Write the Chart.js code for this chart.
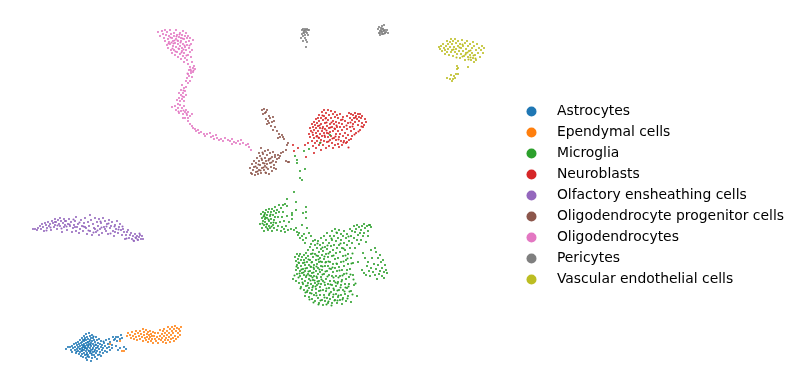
<!DOCTYPE html>
<html>
<head>
<meta charset="utf-8">
<style>
  html, body { margin: 0; background: #fff; }
  #wrap { width: 800px; height: 389px; position: relative; }
</style>
</head>
<body>
<div id="wrap"><canvas id="umap" width="800" height="389"></canvas></div>
<script src="https://cdn.jsdelivr.net/npm/chart.js@4"></script>
<script>
// embedding values, one list per cell type
const cellTypes = ['Astrocytes', 'Ependymal cells', 'Microglia', 'Neuroblasts', 'Olfactory ensheathing cells',
  'Oligodendrocyte progenitor cells', 'Oligodendrocytes', 'Pericytes', 'Vascular endothelial cells'];
const palette = ['#1f77b4', '#ff7f0e', '#2ca02c', '#d62728', '#9467bd', '#8c564b', '#e377c2', '#7f7f7f', '#bcbd22'];

const astrocytes = [[66,349],[68,347],[70,347],[71,350],[72,346],[73,348],[72,352],[74,344],[75,350],[75,347],[76,343],[76,353],[77,345],[77,349],[78,342],[78,347],[78,351],[79,344],[79,354],[80,340],[80,346],[80,349],[80,352],[81,343],[81,356],[82,338],[82,342],[82,345],[82,348],[82,351],[82,354],[83,340],[83,347],[83,357],[84,336],[84,341],[84,344],[84,350],[84,353],[85,338],[85,346],[85,348],[85,355],[86,334],[86,340],[86,343],[86,351],[86,358],[87,337],[87,345],[87,349],[87,353],[87,360],[88,339],[88,342],[88,347],[88,355],[89,333],[89,344],[89,351],[89,357],[90,336],[90,340],[90,348],[90,353],[91,338],[91,343],[91,346],[91,350],[91,361],[92,335],[92,341],[92,355],[92,358],[93,338],[93,344],[93,348],[93,352],[94,340],[94,346],[94,355],[95,342],[95,350],[95,357],[96,337],[96,345],[96,348],[96,353],[97,340],[97,351],[97,359],[98,343],[98,346],[98,355],[99,339],[99,349],[100,344],[100,352],[101,341],[101,347],[101,356],[102,345],[102,350],[103,348],[103,353],[104,343],[105,346],[105,351],[106,340],[107,348],[107,352],[108,344],[109,347],[109,339],[110,342],[110,350],[112,345],[112,348],[113,337],[114,340],[115,339],[116,337],[116,346],[117,341],[118,337],[118,350],[120,339],[120,348],[121,335],[122,338],[124,347],[126,349],
  [85.5,347.5],[88.5,350.5],[83.5,345.5],[90.5,344.5],[86.5,354.5],[92.5,349.5],[81.5,350.5],[94.5,351.5],[89.5,341.5],[87.5,356.5],[79.5,348.5],[97.5,347.5],[84.5,339.5],[91.5,353.5],[76.5,351.5],[99.5,354.5],[93.5,336.5],[86.5,348.5],[88.5,345.5],[90.5,351.5],[84.5,347.5],[82.5,349.5],[95.5,344.5],[103.5,341.5],[87.5,342.5]];
const ependymal = [[110,344],[120,341],[122,351],[124,351],[127,336],[128,333],[130,335],[131,338],[132,332],[133,336],[134,339],[135,334],[136,331],[136,337],[137,340],[138,333],[139,336],[140,331],[140,339],[141,334],[142,337],[143,329],[143,341],[144,332],[144,335],[145,338],[146,330],[146,340],[147,334],[147,337],[148,332],[148,342],[149,335],[149,339],[150,331],[150,337],[151,334],[151,341],[152,336],[152,339],[153,332],[153,343],[154,336],[155,339],[155,333],[156,341],[157,337],[158,333],[158,343],[159,339],[160,336],[160,330],[161,340],[162,334],[162,338],[163,331],[163,342],[164,336],[164,329],[165,340],[165,333],[166,338],[166,343],[167,331],[167,335],[168,327],[168,340],[169,333],[169,337],[170,329],[170,342],[171,335],[171,339],[172,327],[172,331],[173,338],[173,333],[174,341],[174,329],[175,336],[175,326],[176,331],[176,339],[177,328],[178,333],[178,337],[179,329],[180,331],[180,335],[181,327]];
const microglia = [[294,192],[287,199],[296,202],[285,204],[283,205],[287,206],[306,207],[303,213],[306,212],[306,218],[302,225],[307,228],[296,210],[292,213],[292,219],
  [260,224],[261,214],[262,218],[262,228],[263,212],[263,221],[264,216],[264,225],[264,231],[265,213],[265,219],[265,222],[266,210],[266,227],[267,215],[267,218],[267,224],[268,212],[268,230],[269,221],[269,209],[269,226],[270,216],[270,228],[271,212],[271,219],[271,223],[272,209],[272,231],[273,215],[273,225],[274,211],[274,220],[274,228],[275,207],[275,217],[276,223],[276,213],[277,230],[277,210],[278,217],[278,226],[279,205],[279,212],[280,222],[281,208],[281,231],[282,217],[282,227],[283,212],[284,221],[284,229],[285,232],[286,226],[287,216],[288,230],[289,222],[291,229],[292,215],[294,230],[296,228],
  [265.5,217.5],[268.5,219.5],[262.5,223.5],[270.5,214.5],[266.5,224.5],[273.5,222.5],[263.5,216.5],[267.5,228.5],[264.5,214.5],[271.5,226.5],
  [297,232],[298,235],[299,233],[300,238],[302,236],[303,240],[304,234],[305,243],[306,238],[309,233],[311,236],[313,241],[311,244],[315,240],
  [293,279],[295,257],[296,261],[296,270],[296,281],[297,254],[297,265],[297,274],[298,259],[298,268],[299,283],[299,256],[299,263],[300,271],[300,276],[300,254],[301,260],[301,266],[301,287],[302,257],[302,273],[302,279],[303,263],[303,269],[303,284],[304,255],[304,260],[304,275],[304,290],[305,265],[305,281],[305,271],[305,296],[306,253],[306,258],[306,277],[306,286],[307,262],[307,268],[307,292],[308,274],[308,283],[308,250],[308,256],[309,265],[309,279],[309,288],[309,297],[310,260],[310,271],[310,247],[310,293],[311,254],[311,267],[311,276],[311,284],[312,262],[312,273],[312,290],[312,299],[313,250],[313,257],[313,280],[313,286],[314,265],[314,269],[314,276],[314,295],[315,245],[315,254],[315,283],[315,301],[316,260],[316,271],[316,289],[316,293],[317,248],[317,264],[317,278],[317,285],[318,241],[318,256],[318,268],[318,274],[318,298],[319,252],[319,262],[319,281],[319,291],[319,303],[320,245],[320,258],[320,272],[320,287],[320,295],[321,238],[321,249],[321,266],[321,277],[321,284],[322,255],[322,262],[322,270],[322,300],[323,243],[323,251],[323,281],[323,290],[323,305],[324,236],[324,259],[324,274],[324,295],[325,247],[325,266],[325,285],[325,301],[326,240],[326,254],[326,262],[326,279],[326,291],[327,233],[327,249],[327,271],[327,298],[328,257],[328,266],[328,284],[328,303],[329,243],[329,275],[329,288],[329,295],[330,236],[330,252],[330,262],[330,281],[330,299],[331,246],[331,269],[331,292],[332,231],[332,240],[332,256],[332,276],[332,285],[332,303],[333,250],[333,264],[333,272],[333,297],[334,236],[334,245],[334,281],[334,290],[335,229],[335,259],[335,268],[335,300],[336,241],[336,253],[336,276],[336,286],[336,294],[337,233],[337,248],[337,264],[337,271],[337,303],[338,238],[338,258],[338,282],[338,297],[339,230],[339,245],[339,267],[339,290],[340,252],[340,276],[340,300],[341,234],[341,240],[341,262],[341,285],[341,295],[342,248],[342,270],[342,280],[342,304],[343,236],[343,256],[343,290],[343,298],[344,231],[344,243],[344,266],[344,274],[345,250],[345,284],[345,294],[346,238],[346,260],[346,279],[346,301],[347,234],[347,245],[347,270],[347,288],[348,254],[348,264],[348,296],[349,241],[349,277],[349,284],[350,229],[350,248],[350,269],[351,236],[351,258],[351,291],[351,302],[352,243],[352,231],[353,275],[353,263],[354,226],[354,238],[354,285],[355,232],[355,248],[356,229],[357,240],[357,296],[357,225],[358,235],[358,262],[359,227],[359,244],[360,233],[361,230],[361,240],[362,226],[363,236],[364,224],[364,233],[365,228],[366,242],[367,226],[368,231],[369,225],[370,225],[371,227],[368,236],
  [305.5,268.5],[308.5,271.5],[311.5,262.5],[313.5,272.5],[316.5,266.5],[319.5,269.5],[322.5,274.5],[316.5,276.5],[310.5,280.5],[307.5,285.5],[312.5,287.5],[318.5,283.5],[321.5,279.5],[325.5,271.5],[327.5,276.5],[324.5,282.5],[320.5,290.5],[316.5,295.5],[311.5,293.5],[326.5,288.5],[330.5,284.5],[333.5,288.5],[329.5,293.5],[324.5,297.5],[320.5,300.5],[328.5,301.5],[333.5,294.5],[337.5,290.5],[338.5,295.5],[334.5,300.5],[340.5,287.5],[344.5,291.5],[348.5,286.5],[342.5,299.5],[347.5,298.5],[352.5,294.5],[355.5,283.5],[353.5,279.5],[350.5,274.5],[346.5,273.5],[342.5,275.5],[338.5,277.5],[335.5,282.5],[332.5,267.5],[336.5,263.5],[339.5,270.5],[343.5,261.5],[347.5,258.5],[351.5,263.5],[328.5,261.5],[324.5,256.5],[320.5,261.5],[316.5,255.5],[312.5,253.5],[308.5,259.5],[304.5,262.5],[301.5,269.5],[298.5,262.5],[296.5,266.5],[294.5,275.5],[298.5,277.5],[302.5,282.5],[300.5,288.5],[305.5,292.5],[309.5,299.5],[313.5,302.5],[307.5,290.5],[303.5,272.5],[299.5,273.5],[306.5,275.5],[309.5,275.5],[314.5,280.5],[317.5,281.5],[315.5,286.5],[312.5,277.5],[310.5,266.5],[313.5,267.5],[318.5,259.5],[322.5,266.5],[325.5,262.5],[329.5,268.5],[333.5,277.5],[337.5,283.5],[341.5,281.5],[345.5,287.5],[349.5,291.5],[337.5,300.5],[331.5,305.5],[326.5,304.5],[318.5,304.5],[327.5,245.5],[333.5,255.5],[340.5,243.5],[345.5,255.5],[331.5,238.5],[336.5,232.5],[348.5,236.5],[352.5,253.5],[343.5,248.5],[322.5,247.5],[317.5,243.5],[328.5,253.5],
  [362,270],[363,253],[364,273],[365,258],[366,275],[367,266],[368,262],[369,271],[370,276],[371,250],[371,268],[372,258],[373,272],[374,264],[375,248],[375,275],[376,252],[376,269],[377,279],[378,258],[378,265],[379,274],[380,255],[380,271],[381,262],[382,276],[382,268],[383,260],[384,272],[385,265],[386,270],[387,273],[384,278],
  [304,151],[309,149],[295,156],[297,160],[297,163],[300,171],[305,169],[300,178],[302,180],[330,135],[320,143]];
const neuroblasts = [[293,145],[298,148],[294,151],[306,157],[305,145],[314,153],[308,143],[309,134],[310,128],[310,137],[311,131],[312,124],[312,141],[313,127],[313,135],[313,146],[314,122],[314,130],[314,138],[315,125],[315,143],[316,119],[316,133],[316,128],[316,148],[317,136],[317,123],[317,141],[318,118],[318,126],[318,131],[319,115],[319,121],[319,138],[319,145],[320,128],[320,134],[321,118],[321,124],[321,140],[321,150],[322,112],[322,131],[322,136],[323,120],[323,127],[323,145],[324,116],[324,110],[324,133],[324,141],[325,123],[325,129],[325,137],[326,113],[326,118],[326,148],[327,126],[327,133],[327,142],[328,110],[328,120],[328,137],[329,115],[329,128],[329,146],[330,124],[330,132],[330,140],[331,111],[331,118],[331,136],[332,127],[332,143],[333,114],[333,121],[333,131],[333,148],[334,124],[334,138],[335,112],[335,117],[335,129],[335,145],[336,122],[336,134],[336,140],[337,115],[337,127],[338,118],[338,131],[338,144],[339,123],[339,137],[339,147],[340,114],[340,127],[340,134],[341,120],[341,141],[342,124],[342,130],[342,145],[343,117],[343,136],[344,127],[344,141],[345,121],[345,133],[346,138],[346,143],[347,116],[347,129],[348,123],[348,135],[349,113],[349,140],[350,118],[350,127],[351,114],[351,131],[352,120],[352,136],[353,115],[353,124],[354,118],[354,129],[355,113],[355,122],[356,116],[356,133],[357,119],[358,114],[358,125],[359,117],[359,121],[360,114],[360,130],[361,118],[362,123],[362,116],[363,127],[364,125],[365,119],[366,122],[351,139],[347,142],
  [318.5,137.5],[322.5,128.5],[326.5,122.5],[330.5,127.5],[324.5,135.5],[328.5,133.5],[332.5,138.5],[320.5,142.5],[316.5,136.5],[334.5,128.5],[328.5,141.5],[325.5,118.5],[322.5,115.5],[331.5,122.5],[336.5,125.5],[312.5,132.5],[319.5,125.5],[326.5,130.5],[335.5,136.5],[338.5,139.5],[342.5,119.5],[343.5,142.5],[354.5,134.5],[348.5,147.5],[352.5,126.5],[358.5,131.5],[361.5,126.5],[355.5,117.5],[350.5,122.5],[346.5,125.5]];
const olfactory = [[33,229],[35,229],[37,230],[38,228],[40,226],[41,229],[42,224],[43,227],[44,231],[45,223],[46,225],[47,228],[48,222],[49,226],[50,224],[51,230],[52,221],[53,223],[54,227],[55,219],[55,225],[56,222],[57,229],[58,220],[59,224],[60,218],[60,226],[61,221],[62,232],[63,223],[64,219],[64,227],[65,225],[66,221],[67,230],[68,224],[69,219],[70,226],[71,222],[72,232],[73,228],[74,225],[75,221],[76,217],[76,231],[77,227],[78,224],[79,233],[80,229],[81,220],[82,226],[83,231],[84,223],[85,218],[86,228],[87,234],[88,222],[89,226],[90,215],[90,231],[91,220],[92,235],[93,224],[94,228],[95,218],[96,232],[97,222],[98,226],[99,219],[99,235],[100,229],[101,223],[102,233],[103,218],[104,227],[105,221],[106,231],[107,224],[108,234],[109,220],[110,228],[111,226],[112,222],[113,231],[114,236],[115,225],[116,229],[117,221],[118,233],[119,227],[120,224],[121,230],[122,235],[123,229],[124,232],[125,239],[126,235],[127,232],[128,230],[129,238],[130,235],[131,233],[132,239],[133,236],[134,241],[135,234],[136,238],[137,236],[138,240],[139,237],[140,235],[141,239],[142,236],[143,239],[85,227],[95,229],[105,229],[115,232],[75,227],[65,221],[55,222],
  [50.5,227.5],[57.5,225.5],[61.5,228.5],[69.5,224.5],[73.5,219.5],[79.5,222.5],[83.5,226.5],[88.5,230.5],[93.5,232.5],[97.5,230.5],[101.5,227.5],[106.5,226.5],[110.5,233.5],[114.5,226.5],[118.5,229.5],[122.5,226.5],[126.5,238.5],[133.5,240.5],[135.5,237.5],[137.5,239.5],[139.5,233.5],[46.5,230.5],[66.5,226.5],[100.5,221.5],[108.5,223.5]];
const opc = [[262,110],[263,114],[264,109],[265,113],[266,119],[266,112],[267,110],[268,121],[267,124],[269,116],[269,123],[270,118],[271,126],[272,122],[273,117],[274,121],[275,127],[273,130],[277,131],[279,134],[280,137],[278,138],[282,135],[283,137],[288,143],[287,145],[284,139],[250,168],[251,173],[252,164],[252,174],[253,170],[254,161],[254,167],[255,175],[256,163],[256,172],[257,158],[257,168],[258,174],[259,153],[259,161],[259,170],[260,156],[260,165],[261,173],[261,148],[262,160],[262,168],[263,154],[263,163],[264,170],[265,151],[265,158],[265,166],[266,161],[266,173],[267,155],[267,164],[268,150],[268,169],[269,159],[269,174],[270,153],[270,163],[271,167],[272,157],[272,171],[273,152],[273,161],[274,165],[275,157],[275,155],[276,162],[277,159],[278,155],[279,158],[280,156],[281,153],[283,152],[274,168],[276,169],[288,162],[286,161],[289,162],[286,150],
  [258.5,164.5],[261.5,158.5],[264.5,163.5],[266.5,167.5],[263.5,167.5],[260.5,170.5],[257.5,171.5],[268.5,160.5],[270.5,158.5],[255.5,166.5],[271.5,162.5],[262.5,152.5],[265.5,172.5]];
const oligodendrocytes = [[158,32],[160,36],[162,31],[163,34],[164,38],[165,41],[165,30],[166,35],[167,45],[167,32],[168,39],[168,48],[169,36],[169,42],[170,30],[170,44],[171,50],[171,34],[172,38],[172,53],[173,41],[173,46],[174,33],[174,36],[174,50],[175,43],[175,55],[176,39],[176,47],[176,30],[177,35],[177,52],[178,41],[178,44],[178,57],[179,37],[179,49],[180,33],[180,54],[180,46],[181,41],[181,38],[181,59],[182,35],[182,51],[182,48],[183,44],[183,31],[183,56],[184,39],[184,53],[184,62],[185,36],[185,47],[185,58],[186,33],[186,42],[186,50],[187,45],[187,60],[187,38],[188,55],[188,36],[188,64],[189,41],[189,48],[190,52],[190,38],[190,67],[191,44],[191,57],[192,50],[192,62],[193,40],[193,68],[194,66],[195,69],[193,72],[191,71],[189,70],[188,74],[189,76],[191,73],[187,78],[192,77],[186,81],[188,83],[190,81],[182,85],[184,88],[185,91],[186,87],[181,90],[179,93],[181,95],[183,93],[184,97],[179,98],[177,100],[180,101],[182,99],[184,101],[186,95],[172,107],[175,106],[176,110],[178,104],[178,108],[179,113],[180,105],[181,111],[182,108],[183,114],[184,106],[185,112],[186,110],[187,115],[188,112],[183,118],[185,118],[188,118],[190,116],[192,114],[188,121],[190,124],[192,126],[193,128],[195,129],[196,131],[198,130],[199,133],[201,132],[204,134],[205,136],[207,134],[210,133],[211,137],[213,136],[214,139],[216,135],[217,138],[219,140],[221,139],[223,141],[225,138],[228,140],[230,141],[232,144],[234,142],[236,143],[238,141],[240,144],[241,140],[243,143],[246,145],[249,147],[251,150],[248,144],[232,139],
  [170.5,37.5],[173.5,43.5],[176.5,36.5],[178.5,48.5],[180.5,42.5],[182.5,38.5],[175.5,51.5],[172.5,48.5],[168.5,43.5],[184.5,45.5],[181.5,52.5],[177.5,40.5],[179.5,34.5],[186.5,55.5],[183.5,49.5],[189.5,45.5],[174.5,40.5],[171.5,42.5],[193.5,70.5],[190.5,69.5],[187.5,73.5],[183.5,90.5],[182.5,96.5],[178.5,111.5],[183.5,110.5],[186.5,113.5]];
const pericytes = [[301,38],[302,30],[302,34],[303,29],[303,36],[303,41],[304,31],[304,33],[305,29],[305,38],[305,35],[306,30],[306,32],[306,40],[307,42],[307,29],[307,33],[308,30],[308,35],[309,30],[306,47],[378,29],[379,33],[379,27],[380,31],[380,35],[381,28],[381,30],[382,32],[382,26],[383,29],[383,34],[384,25],[384,31],[385,30],[385,33],[386,32],[387,30],[388,33],[380,33],[382,34],
  [303.5,32.5],[304.5,30.5],[381.5,31.5],[383.5,30.5],[382.5,28.5],[384.5,33.5]];
const vascular = [[439,47],[440,49],[441,46],[442,51],[443,44],[444,48],[445,50],[445,54],[446,46],[447,41],[447,52],[448,44],[448,49],[449,55],[450,42],[450,47],[451,39],[451,52],[452,44],[452,50],[453,41],[453,56],[454,47],[455,39],[455,52],[456,43],[456,49],[457,54],[457,66],[457,69],[458,41],[458,46],[458,68],[459,51],[460,58],[460,44],[461,48],[461,54],[462,40],[463,51],[463,46],[464,56],[465,43],[465,60],[466,49],[466,53],[467,41],[468,46],[468,57],[469,51],[470,44],[470,55],[471,60],[472,48],[472,53],[473,42],[473,58],[474,46],[474,62],[475,55],[476,50],[476,60],[477,44],[478,53],[479,48],[480,57],[481,50],[482,46],[483,53],[484,48],[468,67],[447,78],[450,79],[451,75],[452,81],[453,79],[454,76],[455,78],[456,74],[458,74],
  [462.5,56.5],[465.5,54.5],[467.5,52.5],[470.5,57.5],[473.5,55.5],[459.5,47.5],[456.5,57.5],[462.5,44.5],[470.5,50.5],[475.5,58.5],[468.5,59.5],[453.5,49.5]];

const clusters = [astrocytes, ependymal, microglia, neuroblasts, olfactory, opc, oligodendrocytes, pericytes, vascular];

// legend dot as a small canvas, so the built-in legend can leave the wide gap before the text
const legendDot = (color) => {
    const dot = document.createElement('canvas');
    dot.width = dot.height = 11;
    const ctx = dot.getContext('2d');
    ctx.fillStyle = color;
    ctx.beginPath();
    ctx.arc(5.5, 5.5, 5, 0, Math.PI * 2);
    ctx.fill();
    return dot;
};

new Chart(document.getElementById('umap'), {
    type: 'scatter',
    data: {
        datasets: cellTypes.map((name, i) => ({
            label: name,
            data: clusters[i].map(([x, y]) => ({ x, y })),
            backgroundColor: palette[i],
            pointRadius: 1.05,
            pointBorderWidth: 0,
        })),
    },
    options: {
        responsive: false,
        animation: false,
        layout: { autoPadding: false, padding: { top: 2, right: 6 } },
        scales: {
            x: { type: 'linear', display: false, min: 0, max: 505.87 },
            y: { type: 'linear', display: false, min: 2, max: 389, reverse: true },
        },
        plugins: {
            tooltip: { enabled: false },
            legend: {
                position: 'right',
                labels: {
                    usePointStyle: true,
                    pointStyleWidth: 37,
                    padding: 7.1,
                    color: '#000',
                    font: { family: 'DejaVu Sans', size: 13.9 },
                    generateLabels: (c) => c.data.datasets.map((ds, i) => ({
                        text: ds.label,
                        pointStyle: legendDot(palette[i]),
                        fontColor: '#000',
                        datasetIndex: i,
                    })),
                },
            },
        },
    },
});
</script>
</body>
</html>
